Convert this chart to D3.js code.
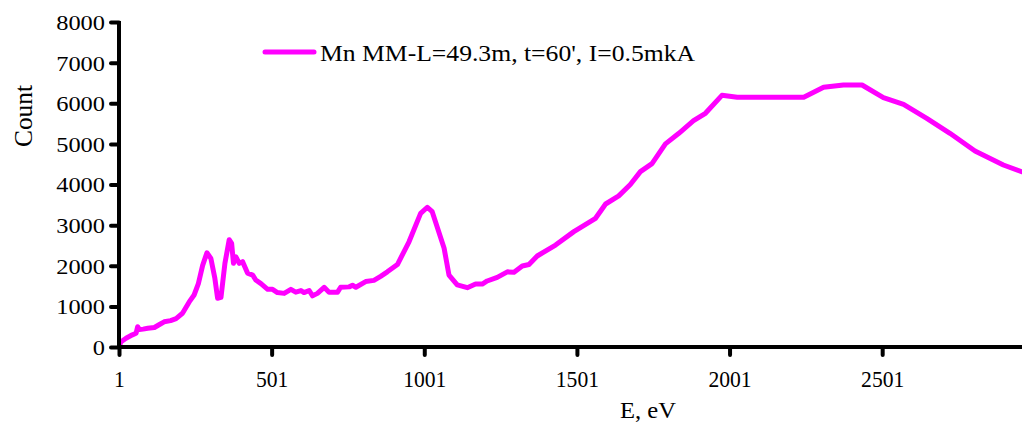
<!DOCTYPE html>
<html>
<head>
<meta charset="utf-8">
<script src="https://cdn.jsdelivr.net/npm/d3@7"></script>
<style>
  html, body { margin: 0; padding: 0; background: #fff; }
  svg { display: block; }
  text { font-family: "Liberation Serif", "Times New Roman", serif; fill: #000; }
</style>
</head>
<body>
<svg id="chart" width="1022" height="433"></svg>
<script>
const seriesName = "Mn MM-L=49.3m, t=60', I=0.5mkA";
const energy = [1, 8, 24, 45, 57, 62, 68, 80, 95, 117, 135, 149, 170, 188, 209, 231, 247, 261, 275, 289,
  302, 315, 324, 335, 348, 362, 370, 376, 384, 395, 406, 422, 439, 449, 466, 488, 504, 520, 542, 564,
  580, 597, 607, 624, 635, 651, 673, 689, 717, 727, 755, 766, 777, 809, 836, 858, 880, 913, 951, 989,
  1011, 1027, 1066, 1082, 1109, 1142, 1169, 1191, 1207, 1240, 1273, 1295, 1322, 1344, 1371, 1431, 1491, 1562, 1595, 1638,
  1676, 1709, 1747, 1791, 1835, 1883, 1922, 1976, 2026, 2244, 2309, 2374, 2435, 2505, 2571, 2647, 2723, 2805, 2898, 2958];
const counts = [20, 130, 214, 300, 337, 500, 430, 440, 460, 480, 560, 620, 650, 700, 830, 1110, 1280, 1560, 2010, 2320,
  2180, 1690, 1200, 1220, 2060, 2640, 2550, 2060, 2220, 2060, 2100, 1820, 1770, 1650, 1560, 1420, 1420, 1340, 1320, 1420,
  1350, 1390, 1340, 1390, 1260, 1320, 1470, 1350, 1350, 1470, 1480, 1520, 1470, 1610, 1640, 1740, 1850, 2030, 2590, 3290,
  3440, 3330, 2430, 1770, 1530, 1460, 1550, 1550, 1625, 1715, 1850, 1840, 1994, 2030, 2240, 2510, 2840, 3168, 3520, 3720,
  4000, 4316, 4515, 5000, 5260, 5570, 5753, 6195, 6147, 6147, 6393, 6449, 6449, 6137, 5974, 5630, 5260, 4825, 4480, 4315];
const xTicks = [1, 501, 1001, 1501, 2001, 2501];
const yTicks = [0, 1000, 2000, 3000, 4000, 5000, 6000, 7000, 8000];
const xLabel = "E, eV";
const yLabel = "Count";

const data = energy.map((e, i) => ({ e, c: counts[i] }));

const svg = d3.select("#chart");
const W = 1022, H = 433;
const m = { left: 119, right: 0, top: 22, bottom: 86 };

const x = d3.scaleLinear().domain([1, 2959]).range([m.left, W - m.right]);
const y = d3.scaleLinear().domain([0, 8000]).range([H - m.bottom, m.top]);

svg.append("defs").append("clipPath").attr("id", "clip")
  .append("rect").attr("x", m.left).attr("y", 0).attr("width", W - m.left).attr("height", H);

// line
const line = d3.line().x(d => x(d.e)).y(d => y(d.c)).curve(d3.curveLinear);
svg.append("path")
  .datum(data)
  .attr("clip-path", "url(#clip)")
  .attr("fill", "none")
  .attr("stroke", "#ff00ff")
  .attr("stroke-width", 5)
  .attr("stroke-linejoin", "round")
  .attr("stroke-linecap", "round")
  .attr("d", line);

// y axis
const yAxis = svg.append("g").attr("transform", `translate(${m.left},0)`)
  .call(d3.axisLeft(y).tickValues(yTicks).tickSize(8).tickPadding(6).tickFormat(d3.format("d")));
yAxis.select(".domain").attr("stroke", "#000").attr("stroke-width", 4).attr("d", `M0,${y(8000) - 1}V${y(0) + 2}`);
yAxis.selectAll(".tick line").attr("stroke", "#000").attr("stroke-width", 4).attr("stroke-linecap", "round");
yAxis.selectAll(".tick text").attr("font-size", 22).attr("font-family", "Liberation Serif").attr("dy", "0.34em")
  .attr("textLength", d => String(d).length * 12.2).attr("lengthAdjust", "spacingAndGlyphs");

// x axis
const xAxis = svg.append("g").attr("transform", `translate(0,${y(0)})`)
  .call(d3.axisBottom(x).tickValues(xTicks).tickSize(8).tickPadding(15).tickFormat(d3.format("d")));
xAxis.select(".domain").attr("stroke", "#000").attr("stroke-width", 4).attr("d", `M${m.left - 2},0H${W}`);
xAxis.selectAll(".tick line").attr("stroke", "#000").attr("stroke-width", 4).attr("stroke-linecap", "round");
xAxis.selectAll(".tick text").attr("font-size", 24).attr("font-family", "Liberation Serif")
  .attr("textLength", d => String(d).length * 10.8).attr("lengthAdjust", "spacingAndGlyphs");

// axis titles
svg.append("text").attr("x", 648).attr("y", 418).attr("text-anchor", "middle")
  .attr("font-size", 24).attr("textLength", 56).attr("lengthAdjust", "spacingAndGlyphs").text(xLabel);
svg.append("text").attr("transform", "translate(32,116) rotate(-90)").attr("text-anchor", "middle")
  .attr("font-size", 25).attr("textLength", 62).attr("lengthAdjust", "spacingAndGlyphs").text(yLabel);

// legend
const lg = svg.append("g");
lg.append("line").attr("x1", 265).attr("x2", 314).attr("y1", 52).attr("y2", 52)
  .attr("stroke", "#ff00ff").attr("stroke-width", 5).attr("stroke-linecap", "round");
lg.append("text").attr("x", 320).attr("y", 61).attr("font-size", 23)
  .attr("textLength", 375).attr("lengthAdjust", "spacingAndGlyphs").text(seriesName);
</script>
</body>
</html>
